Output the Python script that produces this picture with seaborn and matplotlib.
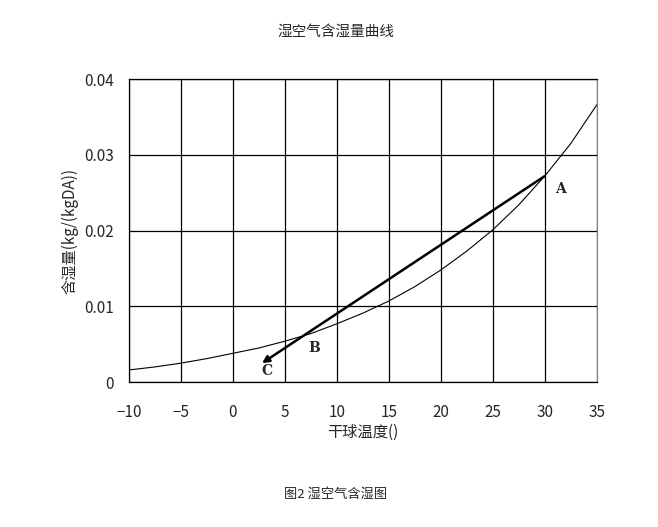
import numpy as np
import pandas as pd
import seaborn as sns
import matplotlib.pyplot as plt

# data
temps = [-10, -7.5, -5, -2.5, 0, 2.5, 5, 7.5, 10, 12.5, 15, 17.5, 20, 22.5, 25, 27.5, 30, 32.5, 35]
moisture = [0.0016, 0.0020, 0.0025, 0.0031, 0.0038, 0.0045, 0.0054, 0.0064, 0.0077, 0.0091,
            0.0107, 0.0126, 0.0148, 0.0173, 0.0201, 0.0234, 0.0272, 0.0315, 0.0366]
point_names = ["A", "B", "C"]
process_x = [30, 2.8]
process_y = [0.0272, 0.0025]
x_ticks = [-10, -5, 0, 5, 10, 15, 20, 25, 30, 35]
y_ticks = [0, 0.01, 0.02, 0.03, 0.04]
y_tick_labels = ["0", "0.01", "0.02", "0.03", "0.04"]

sns.set_style("white")
plt.rcParams['font.family'] = ['Noto Sans CJK SC', 'DejaVu Sans']

df = pd.DataFrame({"t": temps, "d": moisture})

fig = plt.figure(figsize=(6.58, 5.27), dpi=100)
ax = fig.add_axes([0.196, 0.275, 0.711, 0.575])

sns.lineplot(data=df, x="t", y="d", color="black", linewidth=0.8, ax=ax)

# process line A -> C with arrow
ax.annotate("", xy=(process_x[1], process_y[1]), xytext=(process_x[0], process_y[0]),
            arrowprops=dict(arrowstyle="-|>", color="black", lw=1.8, mutation_scale=10,
                            shrinkA=0, shrinkB=0))

label_pos = {"A": (31.5, 0.0255), "B": (7.8, 0.0045), "C": (3.3, 0.0015)}
for name in point_names:
    lx, ly = label_pos[name]
    ax.text(lx, ly, name, fontsize=10, fontweight="bold", family="DejaVu Serif",
            ha="center", va="center")

ax.set_xlim(-10, 35)
ax.set_ylim(0, 0.04)
ax.set_xticks(x_ticks)
ax.set_yticks(y_ticks)
ax.set_yticklabels(y_tick_labels)
ax.grid(True, color="black", linewidth=0.9)
ax.tick_params(length=0, labelsize=11)
ax.tick_params(axis="x", pad=16)
ax.tick_params(axis="y", pad=11)
for s in ["left", "bottom", "top"]:
    ax.spines[s].set_color("black")
    ax.spines[s].set_linewidth(0.9)
ax.spines["right"].set_color("gray")
ax.set_xlabel("干球温度()", fontsize=11, labelpad=2)
ax.set_ylabel("含湿量(kg/(kgDA))", fontsize=11, labelpad=4)

fig.text(0.51, 0.939, "湿空气含湿量曲线", ha="center", va="center", fontsize=10.5)
fig.text(0.51, 0.062, "图2 湿空气含湿图", ha="center", va="center", fontsize=9.5)

fig.savefig("out.png", dpi=100)
